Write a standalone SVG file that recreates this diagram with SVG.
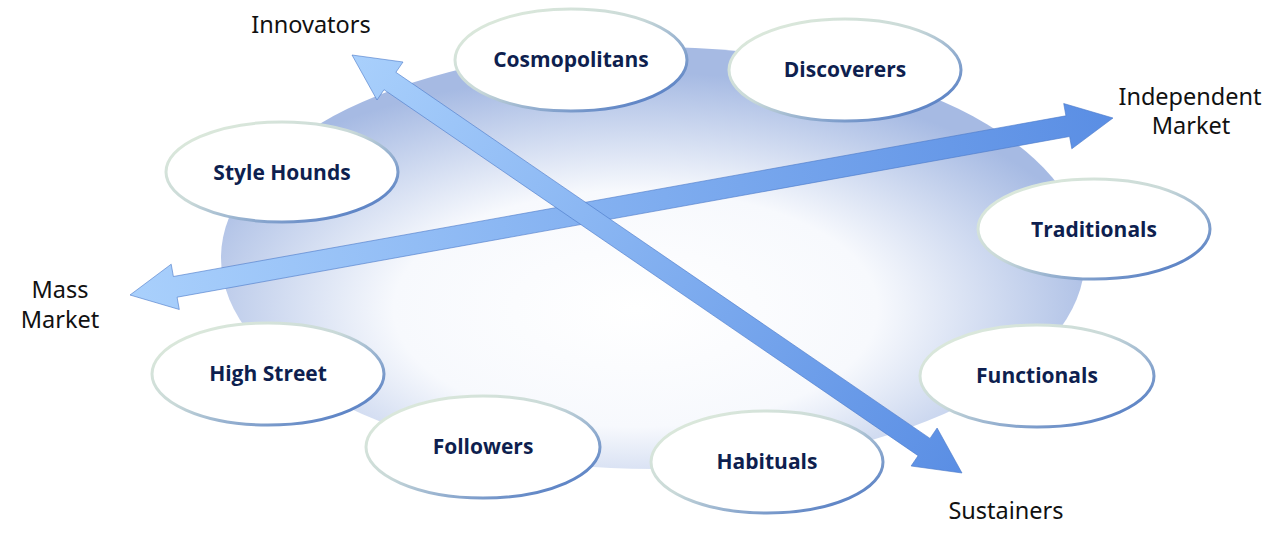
<svg xmlns="http://www.w3.org/2000/svg" width="1280" height="541" viewBox="0 0 1280 541">
<defs>
<radialGradient id="bg" cx="0.48" cy="0.62" r="0.56">
<stop offset="0" stop-color="#ffffff"/>
<stop offset="0.5" stop-color="#f7f9fd"/>
<stop offset="1" stop-color="#a6bae3"/>
</radialGradient>
<linearGradient id="ring" x1="0" y1="0" x2="1" y2="1">
<stop offset="0" stop-color="#e2eedc"/>
<stop offset="0.45" stop-color="#c9d9d8"/>
<stop offset="1" stop-color="#3a68c0"/>
</linearGradient>
<linearGradient id="a1" gradientUnits="userSpaceOnUse" x1="352" y1="55" x2="962" y2="473">
<stop offset="0" stop-color="#a9d0fc"/>
<stop offset="1" stop-color="#5a8ee4"/>
</linearGradient>
<linearGradient id="a2" gradientUnits="userSpaceOnUse" x1="130" y1="295" x2="1113" y2="118">
<stop offset="0" stop-color="#a9d0fc"/>
<stop offset="1" stop-color="#5a8ee4"/>
</linearGradient>
</defs>
<style>
.node ellipse{fill:#ffffff;stroke:url(#ring);stroke-width:3}
.node text{font-family:"Open Sans","Noto Sans",sans-serif;font-weight:bold;font-size:21px;fill:#0e1f4f;text-anchor:middle}
.lbl{font-family:"Noto Sans","Open Sans",sans-serif;font-size:23.5px;fill:#111111;text-anchor:middle}
.arrow{stroke:#4a78c8;stroke-width:1;stroke-opacity:0.6}
</style>
<rect width="1280" height="541" fill="#ffffff"/>
<ellipse id="backdrop" cx="653" cy="258" rx="432" ry="211" fill="url(#bg)"/>

<g id="node-cosmopolitans" class="node"><ellipse cx="571" cy="60" rx="116" ry="51"/><text x="571" y="67">Cosmopolitans</text></g>
<g id="node-discoverers" class="node"><ellipse cx="845" cy="70" rx="116" ry="51"/><text x="845" y="77">Discoverers</text></g>
<g id="node-stylehounds" class="node"><ellipse cx="282" cy="172" rx="116" ry="50"/><text x="282" y="180">Style Hounds</text></g>
<g id="node-traditionals" class="node"><ellipse cx="1094" cy="229" rx="116" ry="50"/><text x="1094" y="237">Traditionals</text></g>
<g id="node-functionals" class="node"><ellipse cx="1037" cy="376" rx="117" ry="51"/><text x="1037" y="383">Functionals</text></g>
<g id="node-highstreet" class="node"><ellipse cx="268" cy="374" rx="116" ry="51"/><text x="268" y="381">High Street</text></g>
<g id="node-followers" class="node"><ellipse cx="483" cy="447" rx="117" ry="51"/><text x="483" y="454">Followers</text></g>
<g id="node-habituals" class="node"><ellipse cx="767" cy="462" rx="116" ry="51"/><text x="767" y="469">Habituals</text></g>

<g id="connectors">
<polygon id="arrow-market" class="arrow" fill="url(#a2)" points="130,295 179.3,309.5 177.1,297.2 1069.6,136.5 1071.8,148.8 1113,118 1063.7,103.5 1065.9,115.8 173.4,276.5 171.2,264.2"/>
<polygon id="arrow-innovation" class="arrow" fill="url(#a1)" points="352,55 377,100 384,89.7 918.1,455.7 911.1,466 962,473 937.1,428 930,438.4 395.9,72.3 403,62"/>
</g>

<text class="lbl" x="311" y="33">Innovators</text>
<text class="lbl" x="1190" y="105">Independent</text>
<text class="lbl" x="1191" y="134">Market</text>
<text class="lbl" x="60" y="298">Mass</text>
<text class="lbl" x="60" y="328">Market</text>
<text class="lbl" x="1006" y="519">Sustainers</text>
</svg>
